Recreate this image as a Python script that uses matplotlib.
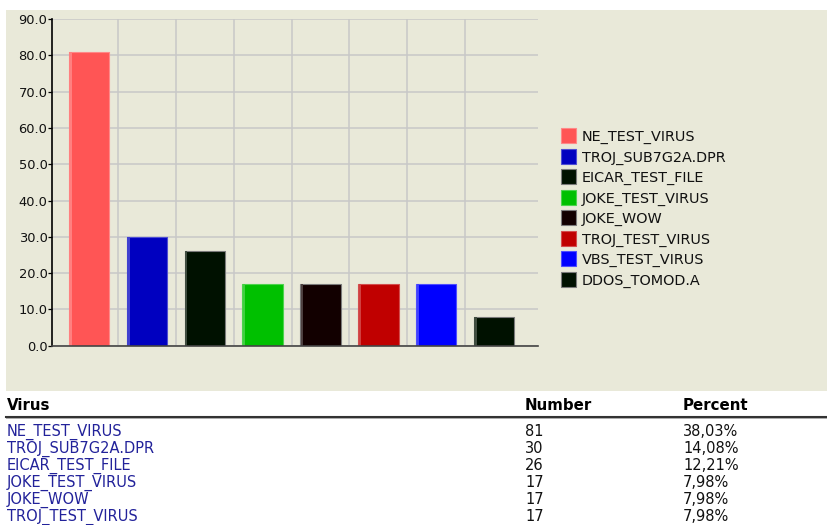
import numpy as np
import matplotlib
matplotlib.use("Agg")
import matplotlib.pyplot as plt
from matplotlib.patches import Rectangle
from matplotlib.lines import Line2D
from matplotlib.transforms import Affine2D
from matplotlib.colors import to_rgb

# ---- data ----
viruses = ["NE_TEST_VIRUS", "TROJ_SUB7G2A.DPR", "EICAR_TEST_FILE", "JOKE_TEST_VIRUS",
           "JOKE_WOW", "TROJ_TEST_VIRUS", "VBS_TEST_VIRUS", "DDOS_TOMOD.A"]
counts = [81, 30, 26, 17, 17, 17, 17, 8]
bar_colors = ["#FF5555", "#0000C0", "#001100", "#00C000",
              "#120000", "#C00000", "#0000FF", "#001100"]
y_ticks = [0, 10, 20, 30, 40, 50, 60, 70, 80, 90]

table_header = ["Virus", "Number", "Percent"]
table_names = viruses[:6]
table_counts = counts[:6]
table_percent = ["38,03%", "14,08%", "12,21%", "7,98%", "7,98%", "7,98%"]

W, H, DPI = 827, 525, 100
fig = plt.figure(figsize=(W / DPI, H / DPI), dpi=DPI)
fig.patch.set_facecolor("white")
plt.rcParams["font.family"] = ["DejaVu Sans"]

# pixel coordinates (origin top-left) -> figure
px = Affine2D().scale(1.0 / DPI, -1.0 / DPI).translate(0, H / DPI) + fig.dpi_scale_trans

PANEL = "#E9E9D9"
GRID = "#C8C8C8"


def lighten(c, f):
    r, g, b = to_rgb(c)
    return (r + (1 - r) * f, g + (1 - g) * f, b + (1 - b) * f)


def edge_for(c):
    r, g, b = to_rgb(c)
    if max(r, g, b) < 0.2:
        return "#7A7A7A"
    return lighten(c, 0.3)


# chart panel background
fig.patches.append(Rectangle((6, 10), W - 6, 381, transform=px,
                             facecolor=PANEL, edgecolor="none", zorder=-5))

# plot area
left, right, top, bottom = 52.3, 538.3, 19.0, 345.7
ax = fig.add_axes([left / W, (H - bottom) / H, (right - left) / W, (bottom - top) / H])
ax.set_zorder(2)
ax.set_facecolor("none")

n = len(viruses)
x = np.arange(n)
bw = 0.70
ax.set_xlim(-0.637, 7.765)
ax.set_ylim(0, 90)

# grid
ax.set_yticks(y_ticks)
ax.set_yticklabels([f"{v:.1f}" for v in y_ticks])
ax.yaxis.grid(True, color=GRID, linewidth=1.1, zorder=1)
ax.set_axisbelow(True)
ax.vlines(x[:-1] + 0.5, 0, 90, color=GRID, linewidth=1.1, zorder=1)
ax.set_xticks([])

# bars with a light bevel on the left side
ax.bar(x, counts, width=bw, color=bar_colors,
       edgecolor=[edge_for(c) for c in bar_colors], linewidth=0.8, zorder=3)
strip = 0.04
ax.bar(x - bw / 2 + strip / 2 + 0.01, counts, width=strip,
       color=[lighten(c, 0.25) for c in bar_colors], linewidth=0, zorder=4)

for s in ("top", "right"):
    ax.spines[s].set_visible(False)
ax.spines["left"].set_color("black")
ax.spines["left"].set_linewidth(1.2)
ax.spines["bottom"].set_color("#444444")
ax.spines["bottom"].set_linewidth(1.2)
ax.spines["left"].set_zorder(5)
ax.spines["bottom"].set_zorder(5)
ax.tick_params(axis="y", length=3, width=0.9, color="black", pad=0.5,
               labelsize=9.4, labelcolor="#111111")

# legend
leg_x, leg_y0, leg_dy, sw = 561, 135.8, 20.5, 15
for i, (name, c) in enumerate(zip(viruses, bar_colors)):
    cy = leg_y0 + i * leg_dy
    fig.patches.append(Rectangle((leg_x, cy - sw / 2), sw, sw, transform=px,
                                 facecolor=c, edgecolor=edge_for(c),
                                 linewidth=0.8, zorder=3))
    fig.text(leg_x + 20.7, cy + 5.2, name, transform=px, fontsize=10.4,
             color="#111111", va="baseline", ha="left")

# table below the chart
col_x = [7, 525, 683]
for cx, label in zip(col_x, table_header):
    fig.text(cx, 410.5, label, transform=px, fontsize=10.8, fontweight="bold",
             color="black", va="baseline", ha="left")
fig.lines.append(Line2D([6, W], [416.5, 416.5], transform=px,
                        color="#333333", linewidth=1.5))
fig.lines.append(Line2D([6, W], [418.2, 418.2], transform=px,
                        color="#AAAAAA", linewidth=0.7))

for i, (name, cnt, pct) in enumerate(zip(table_names, table_counts, table_percent)):
    by = 431 + 17 * i + 5.2
    fig.text(col_x[0], by, name, transform=px, fontsize=10.5,
             color="#22229A", va="baseline", ha="left")
    fig.text(col_x[1], by, str(cnt), transform=px, fontsize=10.5,
             color="#111111", va="baseline", ha="left")
    fig.text(col_x[2], by, pct, transform=px, fontsize=10.5,
             color="#111111", va="baseline", ha="left")

fig.savefig("out.png", dpi=DPI, facecolor="white")
